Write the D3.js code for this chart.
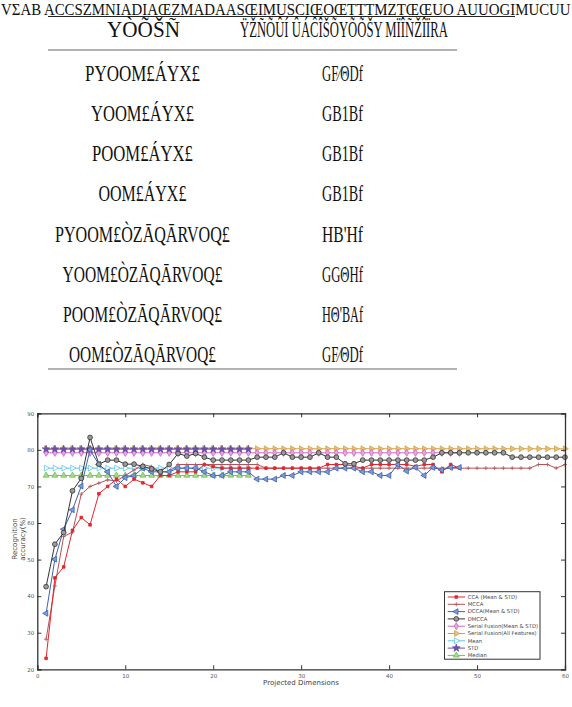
<!DOCTYPE html>
<html><head><meta charset="utf-8">
<script src="https://cdn.jsdelivr.net/npm/d3@7/dist/d3.min.js"></script>
<style>body{margin:0;background:#fff}svg{display:block}</style>
</head><body>
<svg id="c" width="572" height="707"></svg>
<script>
// ---- table data (text as it appears) ----
const titleText = "VΣAB ACCSZMNIADIAŒZMADAASŒIMUSCIŒOŒTTTMZTŒŒUO AUUOGIMUCUU";
const headerLeft = "YÒÕŠÑ";
const headerRight = "ŸŽÑÕÛÍ ÛÁĈÎŠÕYÕÕŠY MÏÎÑŽÎÏRA";
const rowMethods = ["PYOOM£ÁYX£","YOOM£ÁYX£","POOM£ÁYX£","OOM£ÁYX£",
  "PYOOM£ÒZĀQĀRVOQ£","YOOM£ÒZĀQĀRVOQ£","POOM£ÒZĀQĀRVOQ£","OOM£ÒZĀQĀRVOQ£"];
const rowValues = ["GF⁄ΘDf","GB1Bf","GB1Bf","GB1Bf","HB'Hf","GGΘHf","HΘ'BAf","GF⁄ΘDf"];

// ---- chart data ----
const dims = d3.range(1, 61);
const xTicks = [0,10,20,30,40,50,60];
const yTicks = [20,30,40,50,60,70,80,90];
const cca = [23,45,48,58,61.5,59.5,68,70,72,70, 72,71,70,73,73,74,74,74,76,75.4,
  75,75,75,75,75,75,75,75,75,75, 75,75,76,76,76,75.5,75,76,76,76, 76,76,75.5,76,76,74,76,75];
const mcca = [28.2,42.8,56.3,57.5,67.9,70,70.9,71.8,71.5,73, 74.5,76,75.4,74,74,76,76,76,76,76,
  76,76,76,76,76,75,75,75,75,75, 75,75,75,75,75,75,75,75,75,75, 75,75,75,75,75,75,75,75,75,75,
  75,75,75,75,75,75,76,76,75,76];
const dcca = [35.3,50.1,58.3,63.6,70.1,80,76,74,70,72.4, 73,75,74,74,74,75,75,75,74,73,
  73,74,74,74,72,72,72,73,73,74, 74,74,74,75,75,75,74,74,73,73, 76,74.2,75.2,73,75.2,74.5,75.2,75.2];
const dmcca = [42.6,54.2,57.4,68.8,72.2,83.4,76.1,77.2,77.2,76.1, 76.1,75.5,74.8,74,76,79,78.3,79,78,77.2,
  77.2,77.2,77.2,77.2,78,78,78,79.2,78,78, 78,79.2,78,78,76.2,76.2,77.2,77.2,77.2,77.2,
  77.2,77.2,77.2,77.2,78,79.2,79.2,79.2,79.2,79.2, 79.2,79.2,79.2,78,78,78,78,78,78,78];
const serialMS = Array(48).fill(79.2);
const serialAll = Array(60).fill(80.3);
const meanS = Array(24).fill(75);
const stdS = Array(24).fill(80.2);
const medianS = Array(24).fill(73);

const cross = {draw(ctx, size){const r=Math.sqrt(size)/2;ctx.moveTo(-r,0);ctx.lineTo(r,0);ctx.moveTo(0,-r);ctx.lineTo(0,r);}};
const series = [
  {name:"Serial Fusion(All Features)", vals:serialAll, color:"#d4a246", sym:d3.symbolTriangle, rot:90, fill:"#e8c07a", size:15},
  {name:"Serial Fusion(Mean & STD)", vals:serialMS, color:"#d266c8", sym:d3.symbolDiamond, rot:0, fill:"#e8a6e0", size:15},
  {name:"STD", vals:stdS, color:"#6a4fa8", sym:d3.symbolStar, rot:0, fill:"#6a4fa8", size:18},
  {name:"Mean", vals:meanS, color:"#5cc6ea", sym:d3.symbolTriangle, rot:90, fill:"#fff", size:15},
  {name:"Median", vals:medianS, color:"#6ec24c", sym:d3.symbolTriangle, rot:0, fill:"#a6dc8e", size:15},
  {name:"MCCA", vals:mcca, color:"#b4525a", sym:cross, rot:0, fill:"none", size:16},
  {name:"CCA (Mean & STD)", vals:cca, color:"#e5242c", sym:d3.symbolSquare, rot:0, fill:"#e5242c", size:7},
  {name:"DCCA(Mean & STD)", vals:dcca, color:"#3d62b4", sym:d3.symbolTriangle, rot:-90, fill:"#7f9ad4", size:15},
  {name:"DMCCA", vals:dmcca, color:"#333333", sym:d3.symbolCircle, rot:0, fill:"#9a9a9a", size:18}
];
const legendOrder = ["CCA (Mean & STD)","MCCA","DCCA(Mean & STD)","DMCCA","Serial Fusion(Mean & STD)","Serial Fusion(All Features)","Mean","STD","Median"];

const svg = d3.select("#c");
// ---- table ----
const serif = "'Liberation Serif','DejaVu Serif',serif";
function fitText(str, x0, yb, width, size){
  const t = svg.append("text").attr("font-family",serif).attr("font-size",size).attr("fill","#111").text(str);
  const w = t.node().getComputedTextLength();
  t.attr("transform",`translate(${x0},${yb}) scale(${width/w},1)`);
  return t;
}
fitText(titleText, 1, 15, 570, 16);
svg.append("line").attr("x1",48).attr("x2",515).attr("y1",16.5).attr("y2",16.5).attr("stroke","#222").attr("stroke-width",1.2);
fitText(headerLeft, 107, 37, 73, 24);
fitText(headerRight, 240, 37, 208, 24);
svg.append("line").attr("x1",48).attr("x2",457).attr("y1",50).attr("y2",50).attr("stroke","#999").attr("stroke-width",1.5);
svg.append("line").attr("x1",48).attr("x2",457).attr("y1",369).attr("y2",369).attr("stroke","#999").attr("stroke-width",1.5);
const rowY = d3.scaleLinear().domain([0,7]).range([81,362]);
const leftW = [115,103,101,88,175,160,159,147];
rowMethods.forEach((t,i)=>{
  fitText(t, 142.5 - leftW[i]/2, rowY(i), leftW[i], 24);
  fitText(rowValues[i], 322, rowY(i), 41, 24);
});

// ---- chart ----
const x = d3.scaleLinear().domain([0,60]).range([37.3,565]);
const y = d3.scaleLinear().domain([20,90]).range([669.3,413.3]);
const sans = "'DejaVu Sans',sans-serif";
const g = svg.append("g");
const line = d3.line().defined(d=>d!=null).x((d,i)=>x(dims[i])).y(d=>y(d));
series.forEach(s=>{
  g.append("path").attr("d", line(s.vals)).attr("fill","none").attr("stroke",s.color).attr("stroke-width",1);
  const sym = d3.symbol().type(s.sym).size(s.size);
  g.selectAll(null).data(s.vals).enter().append("path")
    .attr("transform",(d,i)=>`translate(${x(dims[i])},${y(d)}) rotate(${s.rot})`)
    .attr("d",sym).attr("fill",s.fill).attr("stroke",s.color).attr("stroke-width",0.8);
});

// axes (box with inward ticks)
const axCol = "#333";
const tickFmt = d3.format("d");
const axB = svg.append("g").attr("transform",`translate(0,${y(20)})`).call(d3.axisBottom(x).tickValues(xTicks).tickSize(-4).tickFormat(tickFmt).tickPadding(5));
const axT = svg.append("g").attr("transform",`translate(0,${y(90)})`).call(d3.axisTop(x).tickValues(xTicks).tickSize(-4).tickFormat(""));
const axL = svg.append("g").attr("transform",`translate(${x(0)},0)`).call(d3.axisLeft(y).tickValues(yTicks).tickSize(-4).tickFormat(tickFmt).tickPadding(3));
const axR = svg.append("g").attr("transform",`translate(${x(60)},0)`).call(d3.axisRight(y).tickValues(yTicks).tickSize(-4).tickFormat(""));
[axB,axT,axL,axR].forEach(a=>{
  a.select(".domain").attr("stroke",axCol).attr("stroke-width",1.3);
  a.selectAll(".tick line").attr("stroke",axCol).attr("stroke-width",1);
  a.selectAll("text").attr("font-family",sans).attr("font-size",5.5).attr("fill","#555");
});

svg.append("text").attr("x",301).attr("y",685).attr("text-anchor","middle").attr("font-family",sans)
  .attr("font-size",7).attr("fill","#444").text("Projected Dimensions");
const yl = svg.append("text").attr("transform","translate(17,539) rotate(-90)").attr("text-anchor","middle")
  .attr("font-family",sans).attr("font-size",7).attr("fill","#444");
yl.append("tspan").attr("x",0).attr("dy",0).text("Recognition");
yl.append("tspan").attr("x",0).attr("dy",7.5).text("accuracy(%)");

// legend
const lg = svg.append("g");
lg.append("rect").attr("x",444.5).attr("y",591.7).attr("width",95.5).attr("height",67.5)
  .attr("fill","#fff").attr("stroke","#333").attr("stroke-width",1);
legendOrder.forEach((n,i)=>{
  const s = series.find(t=>t.name===n);
  const yy = 597 + i*7.3;
  lg.append("line").attr("x1",447.7).attr("x2",465).attr("y1",yy).attr("y2",yy).attr("stroke",s.color).attr("stroke-width",1);
  lg.append("path").attr("transform",`translate(456.3,${yy}) rotate(${s.rot})`).attr("d",d3.symbol().type(s.sym).size(s.size))
    .attr("fill",s.fill).attr("stroke",s.color).attr("stroke-width",0.8);
  lg.append("text").attr("x",467.7).attr("y",yy).attr("dy","0.35em").attr("font-family",sans).attr("font-size",5.3)
    .attr("fill","#444").text(n);
});
</script>
</body></html>
